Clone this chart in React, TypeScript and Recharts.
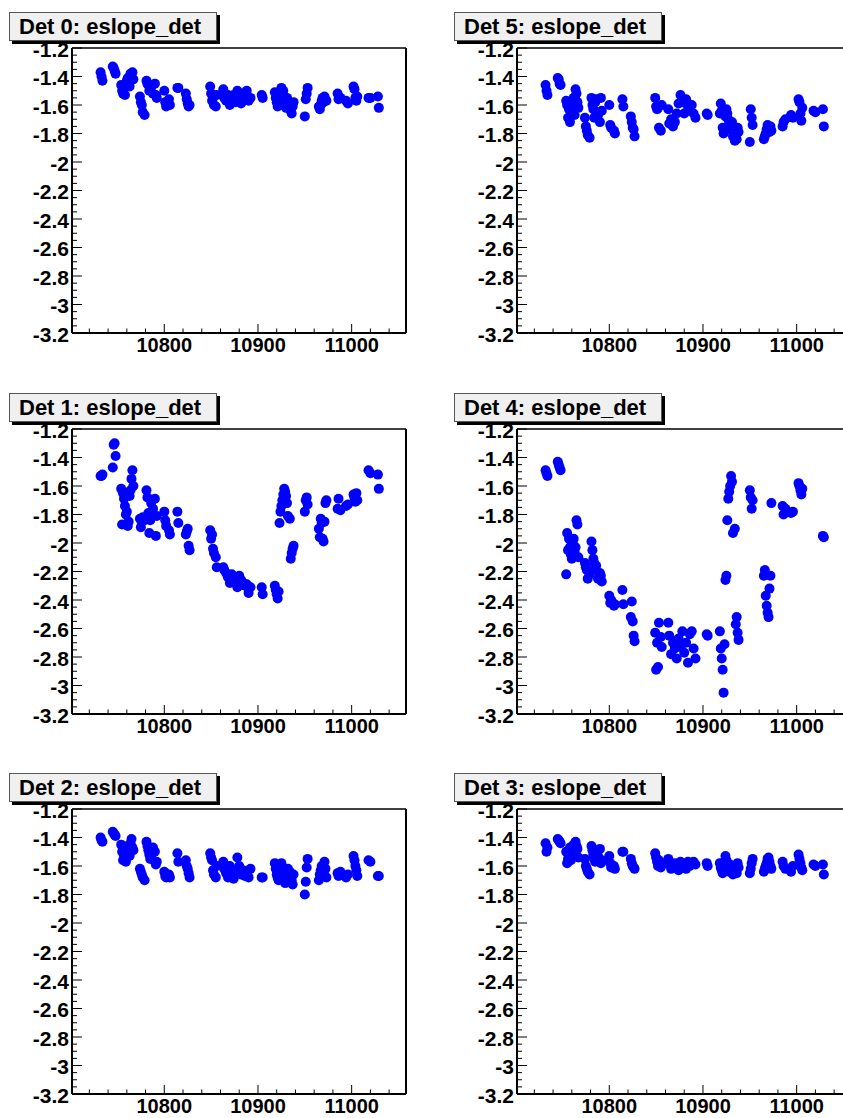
import React from 'react';
import { ScatterChart, Scatter, XAxis, YAxis, ReferenceLine } from 'recharts';

// run numbers (shared by every detector)
const runs = [
  10732, 10733, 10734,
  10745, 10746, 10747, 10748,
  10754, 10755, 10756, 10757, 10758, 10759, 10760, 10761, 10762, 10763, 10764, 10765, 10766, 10767,
  10774, 10775, 10776, 10777, 10779,
  10781, 10782, 10783, 10784, 10785, 10786, 10788, 10790, 10791, 10792,
  10800, 10801, 10802, 10805, 10806,
  10814, 10815,
  10823, 10824, 10825, 10826, 10827,
  10849, 10850, 10851, 10852, 10853, 10855, 10856,
  10863, 10864, 10866, 10868, 10870, 10872, 10874, 10876, 10878, 10880, 10882, 10884, 10886, 10888, 10890, 10892,
  10904, 10905,
  10918, 10919, 10920, 10921, 10922, 10923, 10924, 10925, 10926, 10927, 10928, 10929, 10930, 10931, 10932, 10934, 10935, 10936, 10937, 10938,
  10950, 10951, 10952, 10953,
  10965, 10966, 10967, 10968, 10969, 10970, 10971, 10972, 10973,
  10985, 10986, 10988, 10994, 10996,
  11002, 11003, 11004, 11005, 11006,
  11018, 11020,
  11028, 11029,
];

const det0 = [
  -1.37, -1.40, -1.43,
  -1.33, -1.34, -1.36, -1.38,
  -1.46, -1.50, -1.52, -1.48, -1.53, -1.45, -1.43, -1.41, -1.44, -1.47, -1.38, -1.40, -1.37, -1.42,
  -1.54, -1.58, -1.60, -1.65, -1.67,
  -1.43, -1.45, -1.46, -1.50, -1.48, -1.47, -1.52, -1.45, -1.53, -1.55,
  -1.50, -1.58, -1.61, -1.56, -1.60,
  -1.48, -1.48,
  -1.52, -1.56, -1.59, -1.61, -1.60,
  -1.47, -1.52, -1.57, -1.55, -1.60, -1.61, -1.53,
  -1.49, -1.55, -1.57, -1.53, -1.60, -1.56, -1.53, -1.58, -1.50, -1.55, -1.59, -1.52, -1.56, -1.50, -1.57, -1.55,
  -1.53, -1.55,
  -1.51, -1.55, -1.58, -1.61, -1.57, -1.60, -1.54, -1.48, -1.53, -1.50, -1.56, -1.59, -1.62, -1.55, -1.58, -1.60, -1.64, -1.66, -1.61, -1.58,
  -1.68, -1.56, -1.52, -1.48,
  -1.61, -1.63, -1.60, -1.57, -1.55, -1.58, -1.54, -1.56, -1.57,
  -1.52, -1.56, -1.55, -1.57, -1.59,
  -1.47, -1.49, -1.55, -1.57, -1.54,
  -1.55, -1.55,
  -1.54, -1.62,
];

const det5 = [
  -1.46, -1.50, -1.53,
  -1.41, -1.42, -1.45, -1.46,
  -1.57, -1.60, -1.69, -1.63, -1.72, -1.65, -1.57, -1.60, -1.55, -1.67, -1.49, -1.52, -1.58, -1.62,
  -1.69, -1.75, -1.78, -1.81, -1.83,
  -1.55, -1.60, -1.63, -1.69, -1.58, -1.56, -1.67, -1.72, -1.55, -1.64,
  -1.60, -1.74, -1.76, -1.78, -1.80,
  -1.56, -1.61,
  -1.68, -1.72, -1.76, -1.77, -1.82,
  -1.55, -1.61, -1.63, -1.62, -1.76, -1.78, -1.60,
  -1.63, -1.73, -1.70, -1.75, -1.72, -1.66, -1.59, -1.53, -1.58, -1.66, -1.56, -1.61, -1.64, -1.60, -1.66, -1.69,
  -1.66, -1.67,
  -1.66, -1.59, -1.64, -1.76, -1.80, -1.78, -1.68, -1.63, -1.66, -1.70, -1.73, -1.77, -1.74, -1.72, -1.82, -1.85, -1.80, -1.84, -1.76, -1.79,
  -1.86, -1.63, -1.69, -1.74,
  -1.84, -1.82, -1.80, -1.77, -1.74, -1.76, -1.79, -1.75, -1.78,
  -1.75, -1.72, -1.70, -1.67, -1.69,
  -1.56, -1.58, -1.66, -1.71, -1.62,
  -1.64, -1.65,
  -1.63, -1.75,
];

const det1 = [
  -1.53, -1.53, -1.52,
  -1.47, -1.31, -1.30, -1.39,
  -1.62, -1.87, -1.65, -1.69, -1.74, -1.80, -1.78, -1.88, -1.85, -1.67, -1.63, -1.55, -1.49, -1.60,
  -1.83, -1.89, -1.85, -1.82, -1.84,
  -1.63, -1.68, -1.79, -1.93, -1.84, -1.72, -1.76, -1.69, -1.95, -1.81,
  -1.78, -1.84, -1.88, -1.91, -1.94,
  -1.78, -1.86,
  -1.94, -1.92, -1.90, -2.02, -2.05,
  -1.91, -1.97, -1.94, -2.04, -2.07, -2.10, -2.17,
  -2.17, -2.19, -2.21, -2.24, -2.28, -2.22, -2.25, -2.27, -2.31, -2.23, -2.26, -2.28, -2.30, -2.29, -2.35, -2.31,
  -2.31, -2.36,
  -2.30, -2.33, -2.36, -2.39, -2.34, -1.86, -1.78, -1.74, -1.70, -1.66, -1.62, -1.64, -1.67, -1.72, -1.81, -1.83, -2.11, -2.07, -2.04, -2.02,
  -1.78, -1.70, -1.68, -1.73,
  -1.90, -1.96, -1.83, -1.86, -1.97, -1.99, -1.85, -1.72, -1.70,
  -1.76, -1.69, -1.77, -1.74, -1.73,
  -1.66, -1.68, -1.71, -1.65, -1.70,
  -1.49, -1.51,
  -1.52, -1.62,
];

const det4 = [
  -1.49, -1.51, -1.53,
  -1.43, -1.45, -1.47, -1.49,
  -2.22, -1.93, -2.05, -1.97, -2.03, -2.08, -2.11, -2.00, -1.97, -2.06, -2.03, -1.84, -1.87, -2.10,
  -2.14, -2.17, -2.19, -2.25, -2.22,
  -1.99, -2.05, -2.11, -2.14, -2.19, -2.16, -2.25, -2.21, -2.23, -2.27,
  -2.37, -2.42, -2.40, -2.44, -2.43,
  -2.33, -2.43,
  -2.52, -2.41, -2.55, -2.65, -2.69,
  -2.63, -2.89, -2.70, -2.87, -2.56, -2.66, -2.73,
  -2.56, -2.65, -2.78, -2.70, -2.74, -2.81, -2.67, -2.73, -2.62, -2.77, -2.70, -2.84, -2.64, -2.62, -2.74, -2.81,
  -2.64, -2.65,
  -2.62, -2.74, -2.81, -2.89, -3.05, -2.71, -2.26, -2.23, -1.84, -1.69, -1.64, -1.60, -1.53, -1.57, -1.93, -1.90, -2.57, -2.52, -2.63, -2.68,
  -1.63, -1.68, -1.76, -1.70,
  -2.23, -2.19, -2.37, -2.44, -2.49, -2.52, -2.32, -2.23, -1.72,
  -1.74, -1.80, -1.76, -1.79, -1.78,
  -1.58, -1.60, -1.63, -1.66, -1.62,
  null, null,
  -1.95, -1.96,
];

const det2 = [
  -1.40, -1.42, -1.43,
  -1.36, -1.37, -1.38, -1.39,
  -1.45, -1.50, -1.56, -1.54, -1.48, -1.57, -1.52, -1.46, -1.50, -1.53, -1.44, -1.41, -1.47, -1.49,
  -1.62, -1.64, -1.66, -1.68, -1.70,
  -1.43, -1.46, -1.49, -1.52, -1.55, -1.54, -1.47, -1.50, -1.59, -1.57,
  -1.64, -1.67, -1.68, -1.66, -1.68,
  -1.51, -1.57,
  -1.56, -1.60, -1.62, -1.65, -1.68,
  -1.51, -1.54, -1.56, -1.63, -1.66, -1.68, -1.60,
  -1.57, -1.62, -1.65, -1.68, -1.60, -1.66, -1.69, -1.63, -1.54, -1.60, -1.66, -1.63, -1.67, -1.65, -1.68, -1.62,
  -1.68, -1.68,
  -1.58, -1.62, -1.66, -1.68, -1.70, -1.65, -1.61, -1.58, -1.64, -1.67, -1.70, -1.72, -1.68, -1.65, -1.62, -1.64, -1.67, -1.70, -1.73, -1.66,
  -1.80, -1.71, -1.61, -1.55,
  -1.70, -1.66, -1.63, -1.60, -1.67, -1.64, -1.57, -1.62, -1.68,
  -1.65, -1.67, -1.64, -1.68, -1.66,
  -1.53, -1.56, -1.60, -1.63, -1.67,
  -1.56, -1.57,
  -1.67, -1.67,
];

const det3 = [
  -1.44, -1.50, -1.47,
  -1.41, -1.42, -1.43, -1.44,
  -1.50, -1.58, -1.55, -1.52, -1.47, -1.56, -1.53, -1.49, -1.45, -1.51, -1.43, -1.46, -1.48, -1.54,
  -1.55, -1.60, -1.62, -1.64, -1.66,
  -1.46, -1.49, -1.52, -1.55, -1.57, -1.50, -1.53, -1.48, -1.58, -1.56,
  -1.53, -1.58, -1.61, -1.60, -1.62,
  -1.50, -1.50,
  -1.55, -1.58, -1.60, -1.61, -1.62,
  -1.51, -1.54, -1.57, -1.60, -1.56, -1.61, -1.58,
  -1.55, -1.59, -1.62, -1.60, -1.58, -1.61, -1.63, -1.57, -1.60, -1.59, -1.62, -1.57, -1.60, -1.58, -1.57, -1.59,
  -1.58, -1.60,
  -1.58, -1.61, -1.63, -1.65, -1.60, -1.57, -1.53, -1.56, -1.60, -1.62, -1.64, -1.59, -1.61, -1.63, -1.66, -1.60, -1.62, -1.65, -1.58, -1.61,
  -1.65, -1.62, -1.58, -1.55,
  -1.64, -1.62, -1.60, -1.58, -1.55, -1.54, -1.57, -1.60, -1.62,
  -1.57, -1.60, -1.62, -1.64, -1.60,
  -1.52, -1.55, -1.58, -1.61, -1.63,
  -1.59, -1.60,
  -1.59, -1.66,
];

const xDomain = [10701.5, 11058];
const yDomain = [-3.2, -1.2];
const xTicks = [10720, 10740, 10760, 10780, 10800, 10820, 10840, 10860, 10880, 10900, 10920, 10940, 10960, 10980, 11000, 11020, 11040];
const yLabels = [-3.2, -3, -2.8, -2.6, -2.4, -2.2, -2, -1.8, -1.6, -1.4, -1.2];
// 3 minor ticks between each labelled one
const yTicks: number[] = [];
yLabels.forEach((v, i) => {
  yTicks.push(v);
  if (i < yLabels.length - 1) {
    for (let k = 1; k < 4; k++) yTicks.push(Math.round((v + k * 0.05) * 100) / 100);
  }
});

const panels = [
  { title: 'Det 0: eslope_det', values: det0, col: 0, row: 0 },
  { title: 'Det 5: eslope_det', values: det5, col: 1, row: 0 },
  { title: 'Det 1: eslope_det', values: det1, col: 0, row: 1 },
  { title: 'Det 4: eslope_det', values: det4, col: 1, row: 1 },
  { title: 'Det 2: eslope_det', values: det2, col: 0, row: 2 },
  { title: 'Det 3: eslope_det', values: det3, col: 1, row: 2 },
];

const FONT = "'Liberation Sans', Arial, Helvetica, sans-serif";
const colX = [72, 517];
const rowY = [48, 429, 809];
const FRAME_W = 334;
const FRAME_H = 285;
const AXIS_W = 72;
const TOP_PAD = 12;

const YTick = (props: any) => {
  const { x, y, payload } = props;
  const v = payload.value;
  const major = Math.abs(Math.round(v * 100) % 20) === 0;
  return (
    <g>
      <line x1={x} y1={y} x2={x + (major ? 10 : 5)} y2={y} stroke="#000" strokeWidth={1} />
      {major && (
        <text x={x - 3} y={y + 8.5} textAnchor="end" fontSize={21} fontWeight="bold" fontFamily={FONT} fill="#000">
          {String(Math.round(v * 10) / 10)}
        </text>
      )}
    </g>
  );
};

const XTick = (props: any) => {
  const { x, y, payload } = props;
  const major = payload.value % 100 === 0;
  return (
    <g>
      <line x1={x} y1={y} x2={x} y2={y - (major ? 9 : 4.5)} stroke="#000" strokeWidth={1} />
      {major && (
        <text x={x} y={y + 18.5} textAnchor="middle" fontSize={20} fontWeight="bold" fontFamily={FONT} fill="#000">
          {payload.value}
        </text>
      )}
    </g>
  );
};

const Dot = (props: any) => <circle cx={props.cx} cy={props.cy} r={5} fill="#0000ff" />;

const Panel = ({ title, values, col, row }: { title: string; values: (number | null)[]; col: number; row: number }) => {
  const fx = colX[col];
  const fy = rowY[row];
  const data = runs
    .map((run, i) => ({ x: run, y: values[i] }))
    .filter((p) => p.y !== null);

  return (
    <>
      <div style={{ position: 'absolute', left: fx - AXIS_W, top: fy - TOP_PAD }}>
        <ScatterChart
          width={AXIS_W + FRAME_W + 12}
          height={TOP_PAD + FRAME_H + 30}
          margin={{ top: TOP_PAD, right: 12, bottom: 0, left: 0 }}
        >
          <XAxis
            type="number"
            dataKey="x"
            domain={xDomain}
            allowDataOverflow
            ticks={xTicks}
            interval={0}
            tick={<XTick />}
            tickLine={false}
            tickSize={0}
            tickMargin={0}
            height={30}
            axisLine={{ stroke: '#000', strokeWidth: 2 }}
          />
          <YAxis
            type="number"
            dataKey="y"
            domain={yDomain}
            allowDataOverflow
            ticks={yTicks}
            interval={0}
            tick={<YTick />}
            tickLine={false}
            tickSize={0}
            tickMargin={0}
            width={AXIS_W}
            axisLine={{ stroke: '#000', strokeWidth: 2 }}
          />
          <ReferenceLine y={yDomain[1]} stroke="#000" strokeWidth={1.5} />
          <ReferenceLine x={xDomain[1]} stroke="#000" strokeWidth={2} />
          <Scatter data={data} shape={<Dot />} isAnimationActive={false} />
        </ScatterChart>
      </div>
      <div
        style={{
          position: 'absolute',
          left: fx - 63,
          top: fy - 36,
          width: 208,
          height: 29,
          boxSizing: 'border-box',
          border: '1px solid #555',
          background: '#f0f0f0',
          boxShadow: '3px 3px 0 #000',
          fontFamily: FONT,
          fontWeight: 'bold',
          fontSize: 22,
          lineHeight: '28px',
          paddingLeft: 9,
          color: '#000',
          whiteSpace: 'nowrap',
        }}
      >
        {title}
      </div>
    </>
  );
};

export default function App() {
  return (
    <div
      style={{
        position: 'absolute',
        left: 0,
        top: 0,
        width: 843,
        height: 1118,
        overflow: 'hidden',
        background: '#fff',
      }}
    >
      {panels.map((p) => (
        <Panel key={p.title} {...p} />
      ))}
    </div>
  );
}
